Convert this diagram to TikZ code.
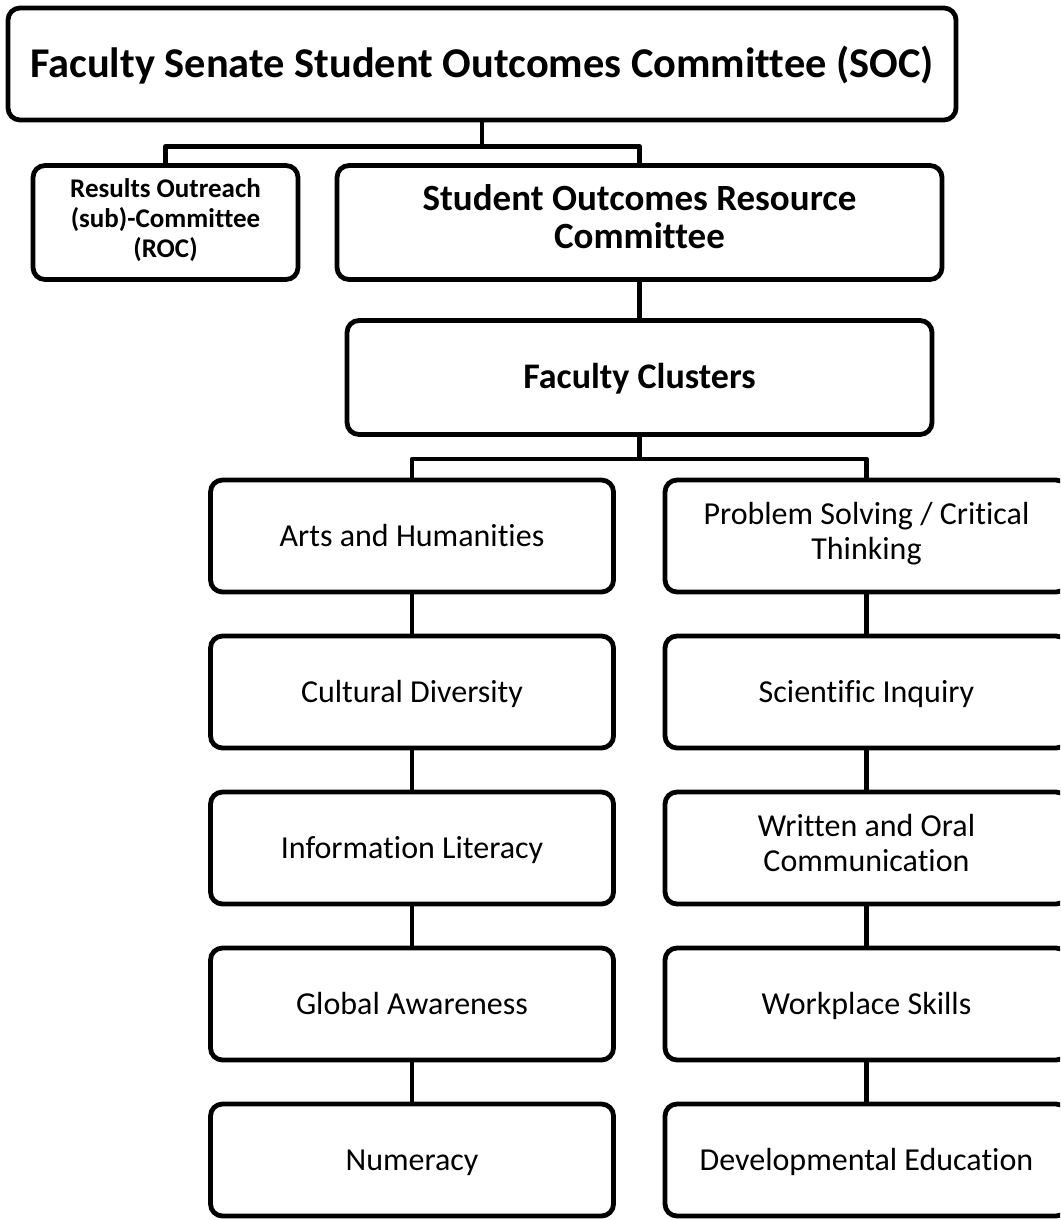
\documentclass[tikz,border=0pt]{standalone}
\usepackage{fontspec}
\setmainfont{Carlito}[Ligatures=NoCommon]
\newcommand\highstrut{\rule{0pt}{\dimexpr0.7\baselineskip+3pt\relax}}
\begin{document}
\begin{tikzpicture}[x=0.5pt,y=-0.5pt,line join=round,line cap=round,
  box/.style={draw,line width=2.4pt,rounded corners=6pt,align=center,inner sep=0pt,
    execute at begin node=\highstrut,execute at end node=\strut},
  cluster/.style={box,minimum width=201.5pt,minimum height=56pt,font=\fontsize{16}{17.5}\selectfont},
  link/.style={line width=2.2pt}]
\useasboundingbox (0,0) rectangle (1060,1220);
\clip (0,0) rectangle (1060,1220);
% committees
\node[box,minimum width=474pt,minimum height=56pt,font=\bfseries\fontsize{21.2}{26}\selectfont] (soc) at (482,64) {Faculty Senate Student Outcomes Committee (SOC)};
\node[box,minimum width=132.5pt,minimum height=57pt,font=\bfseries\fontsize{13.5}{15}\selectfont] (roc) at (165.5,222.5) {Results Outreach\\(sub)-Committee\\(ROC)};
\node[box,minimum width=302.5pt,minimum height=57pt,font=\bfseries\fontsize{18.5}{19}\selectfont] (sorc) at (639.5,222.5) {Student Outcomes Resource\\Committee};
\node[box,minimum width=292.5pt,minimum height=57pt,font=\bfseries\fontsize{18}{19}\selectfont] (fc) at (639.5,377.5) {Faculty Clusters};
% clusters
\foreach \name/\txt [count=\i] in {arts/Arts and Humanities, cult/Cultural Diversity, info/Information Literacy, glob/Global Awareness, num/Numeracy}
  \node[cluster] (\name) at (412,380+156*\i) {\txt};
\foreach \name/\txt [count=\i] in {prob/{Problem Solving / Critical\\Thinking}, sci/Scientific Inquiry, writ/{Written and Oral\\Communication}, work/Workplace Skills, dev/Developmental Education}
  \node[cluster] (\name) at (866.5,380+156*\i) {\txt};
% connectors
\draw[link] (soc.south) -- ++(0,24) -| (roc.north);
\draw[link] (soc.south) -- ++(0,24) -| (sorc.north);
\draw[link] (sorc) -- (fc);
\draw[link] (fc.south) -- ++(0,22) -| (arts.north);
\draw[link] (fc.south) -- ++(0,22) -| (prob.north);
\foreach \a/\b in {arts/cult, cult/info, info/glob, glob/num, prob/sci, sci/writ, writ/work, work/dev}
  \draw[link] (\a) -- (\b);
\end{tikzpicture}
\end{document}
